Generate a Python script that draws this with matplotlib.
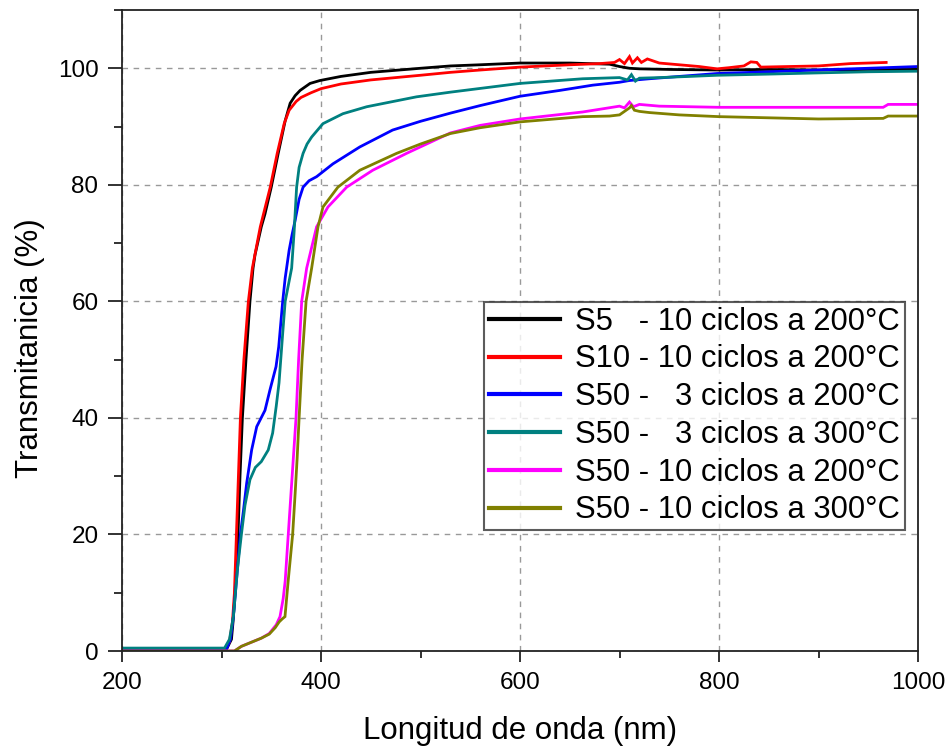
import matplotlib
matplotlib.use("Agg")
import matplotlib.pyplot as plt
from matplotlib.ticker import MultipleLocator

plt.rcParams['font.family'] = ['Liberation Sans', 'DejaVu Sans']

# ---- data ----
labels = ["S5   - 10 ciclos a 200°C",
          "S10 - 10 ciclos a 200°C",
          "S50 -   3 ciclos a 200°C",
          "S50 -   3 ciclos a 300°C",
          "S50 - 10 ciclos a 200°C",
          "S50 - 10 ciclos a 300°C"]
colors = ["#000000", "#ff0000", "#0000ff", "#008080", "#ff00ff", "#808000"]

s5_wl = [200, 305, 310, 311.6, 313.6, 316.6, 318.6, 321, 324.6, 328.6, 331.7, 333.7, 340, 343.7,
         350, 357, 364, 369, 374, 379, 389, 399, 420, 450, 500, 530, 560, 600, 650, 690, 700,
         710, 720, 750, 800, 850, 900, 950, 1000]
s5_t = [0.3, 0.3, 2, 5, 10, 20, 30, 40, 50, 60, 65.7, 68, 72.8, 75,
        79.6, 85.4, 91, 94, 95.3, 96.2, 97.4, 97.9, 98.6, 99.3, 100.0, 100.4, 100.6, 100.9, 100.9, 100.7, 100.3,
        100.0, 99.9, 99.8, 99.7, 99.8, 99.7, 99.8, 99.8]

s10_wl = [200, 303, 308, 311, 313, 315, 317, 319, 322.5, 327, 331, 339, 349, 356, 363, 368, 375,
          380, 390, 400, 420, 450, 500, 530, 560, 600, 650, 680, 695, 700, 705, 710, 713, 718,
          722, 728, 740, 760, 780, 798, 810, 825, 832, 838, 842, 870, 900, 932, 968]
s10_t = [0.3, 0.3, 1.5, 5, 10, 20, 30, 40, 50, 60, 65.7, 72.8, 79.6, 85.4, 90.5, 92.8, 94.3,
         95, 95.8, 96.5, 97.3, 98.0, 98.8, 99.3, 99.7, 100.2, 100.6, 100.8, 101.0, 101.5, 100.8, 102.0, 100.9, 101.8,
         101.0, 101.6, 100.9, 100.6, 100.3, 99.9, 100.1, 100.4, 101.1, 101.0, 100.2, 100.3, 100.4, 100.8, 101.0]

b3_wl = [200, 305, 309, 312, 315, 319, 322, 325.3, 330.3, 335.4, 343.7, 348.7, 354.8, 357.5, 361.5,
         364, 368, 371, 374, 378, 382, 388, 395.6, 412, 439, 472, 500, 530, 560, 600, 640, 673,
         700, 710, 730, 760, 798, 850, 898, 950, 1000]
b3_t = [0.3, 0.3, 2, 6, 12, 20, 24, 28.8, 34.5, 38.5, 41.3, 44.8, 48.8, 52.2, 60,
        64, 68.8, 71.5, 73.9, 77.5, 79.6, 80.7, 81.4, 83.6, 86.5, 89.4, 90.9, 92.3, 93.6, 95.2, 96.2, 97.1,
        97.6, 97.9, 98.2, 98.6, 99.1, 99.4, 99.7, 100.0, 100.3]

t3_wl = [200, 303, 308, 312, 316, 320, 323.6, 328.6, 334, 340, 347, 351.4, 355, 357.8, 361.5,
         364, 368, 370.5, 373, 375.5, 378, 382, 386, 390.6, 402, 422, 446, 496, 530, 600, 663,
         700, 708, 712, 716, 720, 740, 770, 798, 850, 898, 950, 1000]
t3_t = [0.5, 0.5, 2, 6, 14, 20, 25, 29.4, 31.5, 32.5, 34.5, 37.4, 42, 46, 54.5,
        60, 63.5, 65.7, 72, 79.6, 83, 85.4, 87, 88.2, 90.5, 92.2, 93.4, 95.1, 95.9, 97.4, 98.2,
        98.4, 98.0, 98.9, 97.8, 98.3, 98.4, 98.6, 98.8, 99.0, 99.2, 99.4, 99.5]

m10_wl = [200, 313, 320, 330, 340, 348, 355, 358.8, 362, 364, 367.1, 371, 374.9, 377.5, 380.6,
          385.6, 395.6, 407, 425.8, 452, 486, 530, 560, 600, 663, 700, 705, 710, 714, 720, 740,
          800, 900, 965, 970, 1000]
m10_t = [0, 0, 0.8, 1.5, 2.2, 3, 4.5, 5.9, 9, 12, 20, 30, 40, 50, 60,
         65.7, 72.8, 76.2, 79.6, 82.5, 85.4, 88.9, 90.2, 91.3, 92.5, 93.5, 93.2, 94.2, 93.4, 93.8, 93.5,
         93.3, 93.3, 93.3, 93.8, 93.8]

o10_wl = [200, 313, 320, 330, 340, 348, 354, 358, 361, 363.8, 367, 371.5, 374, 376, 378, 381,
          385, 390.6, 397, 402, 417, 439, 476, 500, 530, 560, 600, 663, 690, 700, 705, 710, 712,
          715, 720, 730, 760, 800, 850, 900, 965, 970, 1000]
o10_t = [0, 0, 0.8, 1.5, 2.2, 2.9, 4, 5, 5.5, 5.9, 12, 20, 27, 33, 40, 50,
         60, 65.7, 72.8, 76.2, 79.6, 82.5, 85.4, 87, 88.8, 89.8, 90.8, 91.7, 91.8, 92.0, 92.6, 93.2, 93.6,
         92.8, 92.6, 92.4, 92.0, 91.7, 91.5, 91.3, 91.4, 91.8, 91.8]

series = [(s5_wl, s5_t), (s10_wl, s10_t), (b3_wl, b3_t),
          (t3_wl, t3_t), (m10_wl, m10_t), (o10_wl, o10_t)]

x_ticks = [200, 400, 600, 800, 1000]
y_ticks = [0, 20, 40, 60, 80, 100]

# ---- figure ----
fig = plt.figure(figsize=(9.47, 7.47), dpi=100)
ax = fig.add_axes([122/947, 96/747, 796/947, 641/747])

for (wl, t), c, lab in zip(series, colors, labels):
    ax.plot(wl, t, color=c, lw=2.0, label=lab, solid_joinstyle='miter')

ax.set_xlim(200, 1000)
ax.set_ylim(0, 110)
ax.set_xticks(x_ticks)
ax.set_yticks(y_ticks)
ax.xaxis.set_minor_locator(MultipleLocator(100))
ax.yaxis.set_minor_locator(MultipleLocator(10))
ax.grid(True, which='major', color='#999999', linestyle=(0, (4, 4)), lw=1.0)
ax.set_axisbelow(True)

ax.tick_params(axis='both', which='major', direction='out', labelsize=17.5, width=1.3,
               color='#222222', pad=7)
ax.tick_params(axis='x', which='major', length=8)
ax.tick_params(axis='y', which='major', length=10)
ax.tick_params(axis='x', which='minor', direction='out', length=5, width=1.3, color='#222222')
ax.tick_params(axis='y', which='minor', direction='out', length=6, width=1.3, color='#222222')
for sp in ax.spines.values():
    sp.set_linewidth(1.3)
    sp.set_color('#222222')

ax.set_xlabel("Longitud de onda (nm)", fontsize=22.5, labelpad=16)
ax.set_ylabel("Transmitanicia (%)", fontsize=22.5)
ax.yaxis.set_label_coords(-0.097, 0.473)

leg = ax.legend(loc='upper left', bbox_to_anchor=(484/947, (747-302)/747), bbox_transform=fig.transFigure,
                fontsize=22.3, frameon=True, fancybox=False, borderpad=0.15,
                handlelength=2.3, handletextpad=0.5, labelspacing=0.25, borderaxespad=0)
leg.get_frame().set_edgecolor('#333333')
leg.get_frame().set_linewidth(1.5)
for h in leg.get_lines():
    h.set_linewidth(3.0)

fig.savefig("out.png", dpi=100)
